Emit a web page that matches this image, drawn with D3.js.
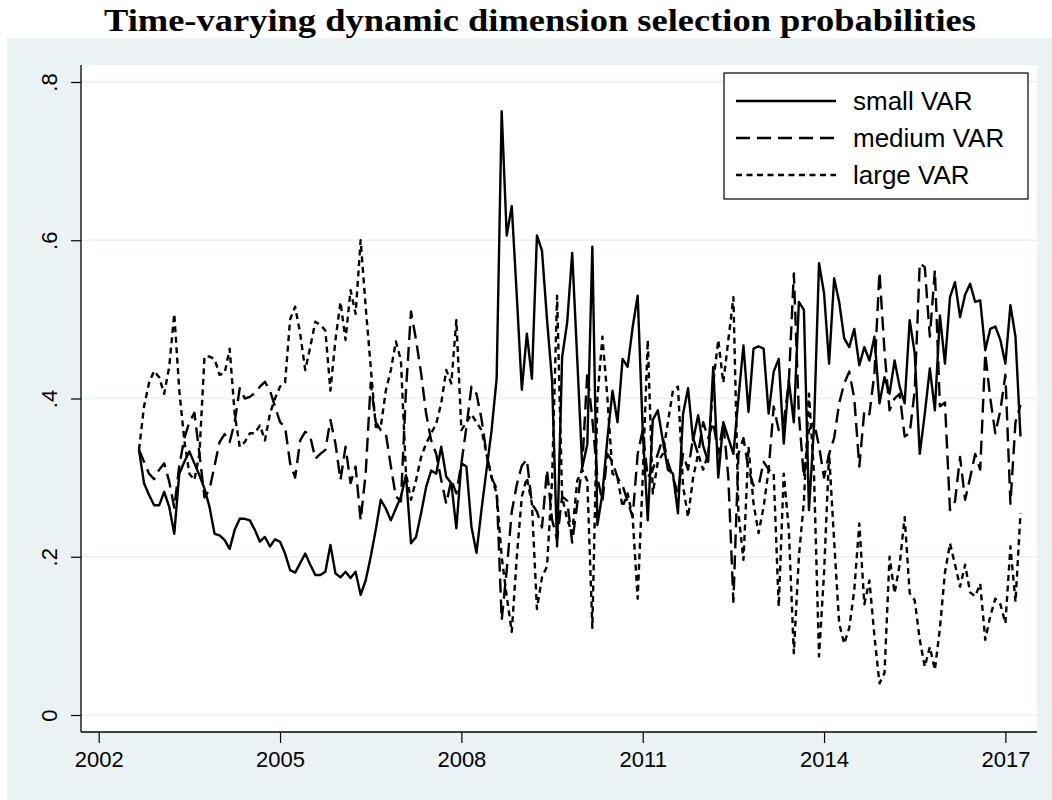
<!DOCTYPE html>
<html><head><meta charset="utf-8">
<script src="https://cdn.jsdelivr.net/npm/d3@7"></script>
<style>body{margin:0;background:#fff}svg{display:block}</style>
</head><body><svg id="c" width="1052" height="800"></svg>
<script>
// first observation: 2002m9, monthly
const startYear = 2002, startMonth = 9;
const small = [
.335,.293,.278,.265,.265,.282,.263,.229,.305,.32,
.333,.318,.303,.286,.263,.229,.227,.221,.21,.234,
.248,.248,.246,.234,.219,.225,.213,.222,.219,.204,
.183,.18,.192,.204,.19,.177,.177,.181,.215,.179,
.174,.181,.173,.181,.152,.17,.2,.234,.272,.261,
.246,.261,.276,.303,.217,.225,.255,.288,.309,.305,
.339,.301,.293,.236,.318,.314,.238,.205,.26,.31,
.36,.425,.763,.606,.643,.53,.411,.482,.425,.606,
.587,.50,.423,.213,.452,.496,.584,.45,.313,.342,
.592,.24,.28,.35,.41,.37,.45,.44,.49,.53,
.36,.246,.373,.385,.347,.31,.305,.255,.38,.413,
.347,.379,.34,.32,.44,.30,.37,.35,.33,.40,
.467,.383,.463,.466,.463,.381,.434,.45,.343,.423,
.37,.522,.512,.259,.364,.571,.533,.444,.552,.522,
.476,.465,.488,.442,.465,.448,.478,.394,.427,.406,
.448,.415,.394,.499,.457,.33,.381,.438,.385,.505,
.444,.528,.547,.503,.531,.545,.522,.524,.461,.488,
.491,.474,.444,.518,.478,.352];
const medium = [
.335,.32,.305,.298,.31,.318,.295,.262,.315,.35,
.37,.382,.33,.275,.285,.315,.345,.355,.345,.37,
.413,.40,.402,.407,.415,.421,.41,.39,.37,.364,
.318,.30,.347,.358,.352,.324,.33,.335,.373,.343,
.297,.339,.293,.314,.246,.305,.42,.37,.36,.356,
.314,.276,.27,.41,.51,.474,.432,.381,.347,.33,
.297,.267,.297,.28,.318,.364,.415,.406,.374,.33,
.30,.286,.12,.183,.257,.291,.315,.323,.267,.257,
.237,.31,.247,.222,.276,.271,.218,.267,.315,.433,
.374,.30,.27,.33,.32,.30,.29,.27,.25,.33,
.36,.30,.31,.33,.35,.32,.30,.28,.33,.31,
.35,.33,.37,.35,.37,.33,.37,.30,.143,.33,
.35,.31,.29,.29,.32,.31,.39,.36,.37,.42,
.558,.38,.30,.36,.37,.34,.30,.33,.35,.394,
.419,.434,.40,.314,.385,.38,.432,.56,.46,.385,
.40,.406,.352,.356,.41,.571,.566,.478,.562,.39,
.395,.259,.27,.326,.272,.30,.33,.31,.457,.40,
.356,.385,.43,.267,.37,.392];
const large = [
.335,.39,.42,.435,.427,.406,.44,.507,.41,.347,
.305,.297,.33,.453,.453,.45,.43,.432,.463,.38,
.339,.345,.356,.356,.366,.347,.381,.40,.415,.42,
.50,.516,.482,.436,.465,.497,.493,.486,.41,.474,
.522,.474,.537,.507,.60,.516,.44,.364,.364,.41,
.436,.472,.448,.305,.272,.297,.326,.343,.356,.368,
.394,.436,.419,.499,.36,.37,.38,.37,.36,.33,
.30,.28,.20,.15,.105,.20,.276,.30,.267,.134,
.174,.188,.296,.53,.276,.247,.23,.296,.31,.296,
.11,.40,.478,.40,.305,.30,.263,.28,.25,.147,
.30,.474,.28,.32,.33,.37,.41,.415,.29,.25,
.30,.33,.31,.33,.42,.474,.42,.474,.528,.255,
.196,.339,.267,.23,.263,.31,.305,.137,.305,.234,
.078,.20,.27,.406,.305,.074,.18,.33,.22,.116,
.09,.11,.158,.242,.14,.17,.10,.04,.053,.20,
.154,.19,.25,.154,.145,.095,.061,.086,.057,.11,
.18,.217,.19,.162,.19,.155,.15,.166,.095,.125,
.147,.14,.116,.213,.143,.255];
const seriesNames = ["small VAR", "medium VAR", "large VAR"];
const xTicks = [2002, 2005, 2008, 2011, 2014, 2017];
const yTicks = [0, 0.2, 0.4, 0.6, 0.8];
const yTickLabels = ["0", ".2", ".4", ".6", ".8"];
const titleText = "Time-varying dynamic dimension selection probabilities";

const svg = d3.select("#c");
const bg = "#EAF2F3";
const plotL = 81, plotR = 1037, plotT = 65, plotB = 732;

svg.append("rect").attr("x",0).attr("y",0).attr("width",1052).attr("height",800).attr("fill","#fff");
svg.append("rect").attr("x",7).attr("y",38).attr("width",1045).attr("height",762).attr("fill",bg);
svg.append("rect").attr("x",plotL).attr("y",plotT).attr("width",plotR-plotL).attr("height",plotB-plotT).attr("fill","#fff");

const x = d3.scaleLinear().domain([2002, 2017]).range([98.7, 1005.4]);
const y = d3.scaleLinear().domain([0, 0.8]).range([715, 82]);
const t = i => startYear + (startMonth - 1 + i) / 12;

// gridlines
svg.append("g").selectAll("line").data(yTicks).join("line")
  .attr("x1", plotL).attr("x2", plotR)
  .attr("y1", d => y(d)).attr("y2", d => y(d))
  .attr("stroke", bg).attr("stroke-width", 1.6);

const font = "'Liberation Sans', Arial, Helvetica, sans-serif";

// axes
const xAxis = svg.append("g").attr("transform", `translate(0,${plotB})`)
  .call(d3.axisBottom(x).tickValues(xTicks).tickFormat(d3.format("d")).tickSize(11).tickSizeOuter(0));
xAxis.select(".domain").remove();
xAxis.selectAll("line").attr("stroke","#000").attr("stroke-width",1.2);
xAxis.selectAll("text").attr("y", 35).attr("dy", 0).attr("fill","#000")
  .attr("font-family", font).attr("font-size", 22);

const yAxis = svg.append("g").attr("transform", `translate(${plotL},0)`)
  .call(d3.axisLeft(y).tickValues(yTicks).tickFormat((d,i) => yTickLabels[i]).tickSize(10).tickSizeOuter(0));
yAxis.select(".domain").remove();
yAxis.selectAll("line").attr("stroke","#000").attr("stroke-width",1.2);
yAxis.selectAll("text").attr("x", 0).attr("dy", 0)
  .attr("transform", "translate(-24,0) rotate(-90)")
  .attr("text-anchor","middle").attr("fill","#000")
  .attr("font-family", font).attr("font-size", 22);

svg.append("line").attr("x1",plotL).attr("x2",plotL).attr("y1",plotT).attr("y2",plotB)
  .attr("stroke","#000").attr("stroke-width",1.3);
svg.append("line").attr("x1",plotL).attr("x2",plotR).attr("y1",plotB).attr("y2",plotB)
  .attr("stroke","#000").attr("stroke-width",1.3);

// series
const dashes = [null, "14,7", "6,4.5"];
const line = d3.line().x((d,i) => x(t(i))).y(d => y(d));
[small, medium, large].forEach((s, k) => {
  svg.append("path").datum(s).attr("d", line)
    .attr("fill","none").attr("stroke","#000").attr("stroke-width",2.4)
    .attr("stroke-linejoin","round")
    .attr("stroke-dasharray", dashes[k]);
});

// legend
const lg = svg.append("g");
lg.append("rect").attr("x",724).attr("y",73).attr("width",304).attr("height",126)
  .attr("fill","#fff").attr("stroke","#000").attr("stroke-width",1.2);
const rowY = [101, 138, 175];
seriesNames.forEach((n, k) => {
  lg.append("line").attr("x1",736).attr("x2",836).attr("y1",rowY[k]).attr("y2",rowY[k])
    .attr("stroke","#000").attr("stroke-width",2.4).attr("stroke-dasharray", dashes[k]);
  lg.append("text").attr("x",853).attr("y",rowY[k]+9).text(n)
    .attr("font-family", font).attr("font-size", 26).attr("fill","#000");
});

// title
svg.append("text").attr("x", 540).attr("y", 31).attr("text-anchor","middle")
  .attr("font-family","'Liberation Serif','Times New Roman',serif").attr("font-weight","bold")
  .attr("font-size", 31).attr("textLength", 872).attr("lengthAdjust","spacingAndGlyphs")
  .attr("fill","#000").text(titleText);
</script>
</body></html>
